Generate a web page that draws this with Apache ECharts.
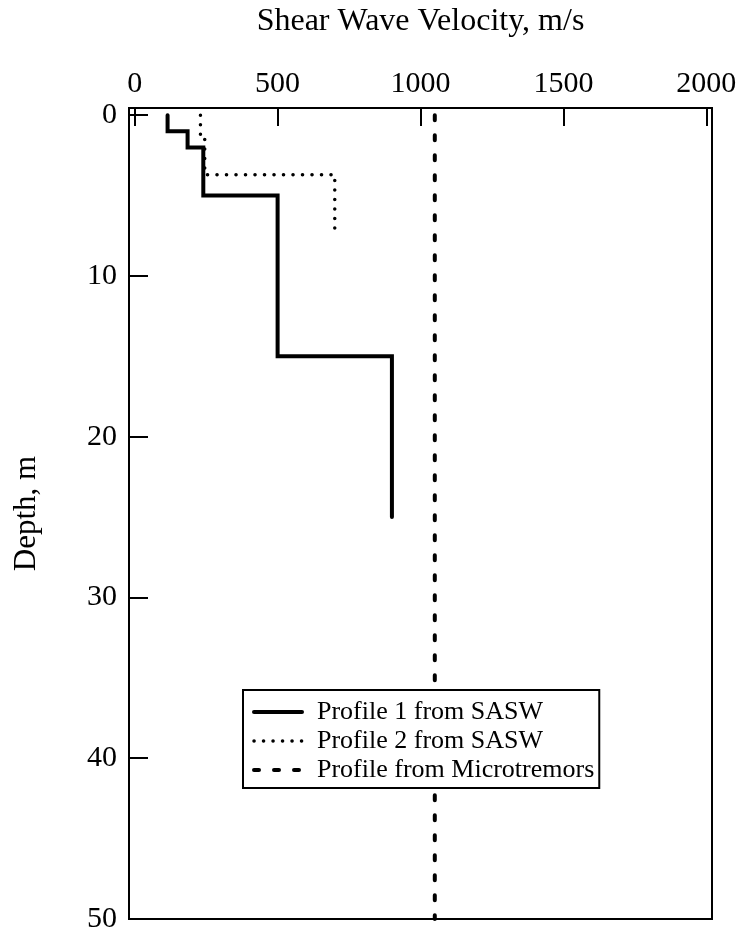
<!DOCTYPE html>
<html>
<head>
<meta charset="utf-8">
<script src="https://cdn.jsdelivr.net/npm/echarts@6/dist/echarts.min.js"></script>
<style>html,body{margin:0;padding:0;background:#fff}#c{width:740px;height:932px}</style>
</head>
<body>
<div id="c"></div>
<script>
const xTicks = [0, 500, 1000, 1500, 2000];
const yTicks = [0, 10, 20, 30, 40, 50];
const seriesNames = ['Profile 1 from SASW', 'Profile 2 from SASW', 'Profile from Microtremors'];
const profile1Velocity = [115, 115, 185, 185, 240, 240, 500, 500, 900, 900];
const profile1Depth    = [0, 1, 1, 2, 2, 5, 5, 15, 15, 25];
const profile2Velocity = [230, 230, 245, 245, 700, 700];
const profile2Depth    = [0, 1.2, 1.2, 3.7, 3.7, 7.6];
const microVelocity = [1050, 1050];
const microDepth    = [0, 50];

const pairs = (xs, ys) => xs.map((v, i) => [v, ys[i]]);
const FONT = 'Liberation Serif';

const solidStyle  = {color: '#000', width: 4, type: 'solid', cap: 'round', join: 'miter'};
const dottedStyle = {color: '#000', width: 3.5, type: [0.1, 9.4], cap: 'round'};
const dashedStyle = {color: '#000', width: 4, type: [5, 15], cap: 'round'};
const hiddenSymbol = {color: 'rgba(0,0,0,0)', borderWidth: 0, opacity: 0};

const chart = echarts.init(document.getElementById('c'), null, {renderer: 'canvas'});
chart.setOption({
  animation: false,
  backgroundColor: '#fff',
  textStyle: {fontFamily: FONT, color: '#000'},
  grid: {left: 129, top: 108, right: 28, bottom: 13, containLabel: false, outerBoundsMode: 'none',
         show: true, borderColor: '#000', borderWidth: 2, backgroundColor: 'transparent'},
  legend: {
    orient: 'vertical', left: 243, top: 690, z: 10,
    padding: [9, 5, 5, 9],
    itemWidth: 48, itemHeight: 16, itemGap: 3,
    backgroundColor: '#fff',
    borderColor: '#000', borderWidth: 2, borderRadius: 0,
    selectedMode: false,
    itemStyle: hiddenSymbol,
    data: [
      {name: seriesNames[0], lineStyle: solidStyle, itemStyle: hiddenSymbol},
      {name: seriesNames[1], lineStyle: dottedStyle, itemStyle: hiddenSymbol},
      {name: seriesNames[2], lineStyle: dashedStyle, itemStyle: hiddenSymbol}
    ],
    textStyle: {fontFamily: FONT, fontSize: 26, color: '#000', padding: [0, 0, 0, 10]}
  },
  xAxis: {
    type: 'value', position: 'top', min: -20, max: 2020,
    name: 'Shear Wave Velocity, m/s', nameLocation: 'middle', nameGap: 70,
    nameTextStyle: {fontFamily: FONT, fontSize: 32, color: '#000'},
    axisLine: {show: true, onZero: false, lineStyle: {color: '#000', width: 2}},
    axisTick: {show: true, inside: true, length: 18, lineStyle: {color: '#000', width: 2}, customValues: xTicks},
    axisLabel: {show: true, margin: 9, fontFamily: FONT, fontSize: 30, color: '#000', customValues: xTicks,
                formatter: v => String(v)},
    splitLine: {show: false}
  },
  yAxis: {
    type: 'value', inverse: true, min: -0.45, max: 50,
    name: 'Depth, m', nameLocation: 'middle', nameGap: 87, nameRotate: 90,
    nameTextStyle: {fontFamily: FONT, fontSize: 31, color: '#000'},
    axisLine: {show: true, onZero: false, lineStyle: {color: '#000', width: 2}},
    axisTick: {show: true, inside: true, length: 19, lineStyle: {color: '#000', width: 2}, customValues: yTicks},
    axisLabel: {show: true, margin: 12, fontFamily: FONT, fontSize: 30, color: '#000', customValues: yTicks,
                formatter: v => String(v)},
    splitLine: {show: false}
  },
  series: [
    {name: seriesNames[0], type: 'line', data: pairs(profile1Velocity, profile1Depth), symbol: 'none',
     lineStyle: solidStyle, itemStyle: {color: '#000'}},
    {name: seriesNames[1], type: 'line', data: pairs(profile2Velocity, profile2Depth), symbol: 'none',
     lineStyle: dottedStyle, itemStyle: {color: '#000'}},
    {name: seriesNames[2], type: 'line', data: pairs(microVelocity, microDepth), symbol: 'none',
     lineStyle: dashedStyle, itemStyle: {color: '#000'}}
  ]
});
</script>
</body>
</html>
